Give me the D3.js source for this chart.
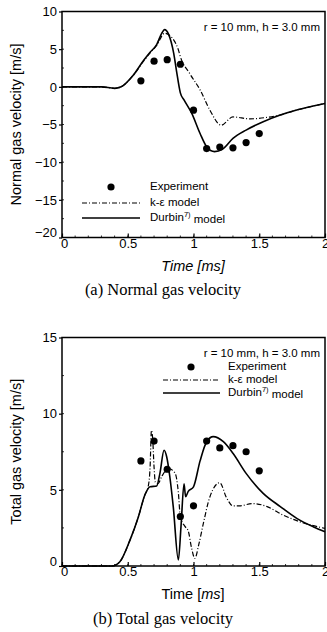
<!DOCTYPE html>
<html>
<head>
<meta charset="utf-8">
<script src="https://cdn.jsdelivr.net/npm/d3@7"></script>
<style>
  body { margin: 0; background: #fff; }
  svg { display: block; }
</style>
</head>
<body>
<svg id="chart"></svg>
<script>
// tick labels
const xTicks = [0, 0.5, 1, 1.5, 2];
const normalTicks = [10, 5, 0, -5, -10, -15, -20];
const totalTicks = [0, 5, 10, 15];

// experiment points (same times in both panels)
const expTime = [0.6, 0.7, 0.8, 0.9, 1.0, 1.1, 1.2, 1.3, 1.4, 1.5];
const normalExp = [0.8, 3.4, 3.6, 3.0, -3.1, -8.2, -8.0, -8.1, -7.4, -6.2];
const totalExp = [6.9, 8.2, 6.35, 3.25, 3.95, 8.2, 7.75, 7.9, 7.5, 6.25];

// (a) normal gas velocity - Durbin model
const normalDurbinT = [0, 0.3, 0.4, 0.45, 0.54, 0.62, 0.67, 0.72, 0.758, 0.78, 0.81, 0.85, 0.87, 0.9, 0.93, 0.986, 1.05, 1.1, 1.16, 1.22, 1.3, 1.4, 1.53, 1.66, 1.785, 1.91, 2.0];
const normalDurbin = [0, 0, -0.2, 0, 1.5, 3.5, 4.6, 5.6, 7.1, 7.6, 7.0, 4.4, 2.2, -0.8, -1.8, -3.5, -6.2, -7.95, -8.6, -8.3, -6.85, -5.74, -4.63, -3.74, -3.08, -2.55, -2.2];
// (a) normal gas velocity - k-e model
const normalKeT = [0, 0.3, 0.4, 0.45, 0.54, 0.62, 0.67, 0.72, 0.78, 0.85, 0.885, 0.9, 0.97, 1.05, 1.125, 1.21, 1.3, 1.43, 1.56, 1.66, 1.785, 1.91, 2.0];
const normalKe = [0, 0, -0.2, 0, 1.5, 3.4, 4.5, 5.5, 7.1, 6.2, 4.9, 4.0, 1.8, -0.4, -3.1, -5.1, -4.0, -4.25, -4.05, -3.74, -3.08, -2.55, -2.2];

// (b) total gas velocity - Durbin model
const totalDurbinT = [0, 0.38, 0.44, 0.517, 0.58, 0.63, 0.67, 0.72, 0.745, 0.776, 0.796, 0.82, 0.846, 0.885, 0.905, 0.928, 0.94, 0.96, 1.0, 1.05, 1.1, 1.15, 1.227, 1.3, 1.4, 1.53, 1.66, 1.785, 1.91, 2.0];
const totalDurbin = [0, 0, 0.28, 1.7, 3.2, 4.66, 5.2, 5.25, 6.1, 7.6, 7.17, 5.86, 3.9, 0.4, 2.6, 5.4, 4.55, 4.9, 5.2, 6.9, 8.16, 8.49, 8.16, 7.4, 6.08, 4.77, 3.9, 3.13, 2.58, 2.25];
// (b) total gas velocity - k-e model
const totalKeT = [0, 0.38, 0.44, 0.517, 0.58, 0.63, 0.655, 0.67, 0.68, 0.69, 0.7, 0.71, 0.73, 0.76, 0.81, 0.86, 0.885, 0.9, 0.935, 0.96, 0.985, 1.01, 1.04, 1.075, 1.125, 1.2, 1.25, 1.3, 1.35, 1.45, 1.56, 1.68, 1.81, 2.0];
const totalKe = [0, 0, 0.28, 1.7, 3.2, 4.66, 5.2, 6.5, 8.9, 8.3, 6.5, 5.5, 5.4, 5.9, 6.4, 6.1, 4.8, 3.2, 2.6, 2.3, 1.2, 0.5, 1.4, 2.8, 4.55, 5.47, 4.5, 3.95, 3.95, 4.1, 3.9, 3.35, 2.9, 2.47];

const legendLabels = ["Experiment", "k-\u03b5 model", "Durbin"];
const caseLabel = "r = 10 mm, h = 3.0 mm";

const W = 327, H = 632;
const svg = d3.select("#chart").attr("width", W).attr("height", H);
const sans = "'Liberation Sans', Arial, sans-serif";
const serif = "'Liberation Serif', 'Times New Roman', serif";
const keDash = "5,2,1,2";

function panel(opt) {
    const g = svg.append("g");
    const x = d3.scaleLinear().domain([0, 2]).range([62, 325]);
    const y = d3.scaleLinear().domain(opt.yDomain).range([opt.bottom, opt.top]);

    // minor ticks (inward)
    const xMinor = d3.range(0, 2.0001, 0.1);
    g.selectAll(".xm").data(xMinor).join("line")
        .attr("x1", d => x(d)).attr("x2", d => x(d))
        .attr("y1", opt.bottom).attr("y2", opt.bottom - 2)
        .attr("stroke", "#000").attr("stroke-width", 0.8);
    const yMinor = d3.range(opt.yDomain[0], opt.yDomain[1] + 0.001, 2.5);
    g.selectAll(".ym").data(yMinor).join("line")
        .attr("x1", 62).attr("x2", 64)
        .attr("y1", d => y(d)).attr("y2", d => y(d))
        .attr("stroke", "#000").attr("stroke-width", 0.8);

    // axes
    const xAxis = g.append("g")
        .attr("transform", `translate(0,${opt.bottom})`)
        .call(d3.axisBottom(x).tickValues(xTicks).tickFormat(d3.format("")).tickSize(-4).tickPadding(1));
    const yAxis = g.append("g")
        .attr("transform", "translate(62,0)")
        .call(d3.axisLeft(y).tickValues(opt.yTicks).tickFormat(d3.format("")).tickSize(3).tickPadding(2));
    [xAxis, yAxis].forEach(a => {
        a.select(".domain").remove();
        a.selectAll("line").attr("stroke", "#000").attr("stroke-width", 1.2);
        a.selectAll("text").attr("fill", "#000")
            .style("font-family", sans).style("font-size", "13px");
    });
    xAxis.selectAll("text").attr("dx", d => d === 0 ? 2 : 0);
    yAxis.selectAll("text").attr("dy", d => d === opt.yDomain[0] ? "-0.05em" : "0.32em");

    // frame
    g.append("rect")
        .attr("x", 62).attr("y", opt.top)
        .attr("width", 325 - 62).attr("height", opt.bottom - opt.top)
        .attr("fill", "none").attr("stroke", "#000").attr("stroke-width", 1.5);

    const line = d3.line().x(d => x(d[0])).y(d => y(d[1])).curve(d3.curveMonotoneX);

    g.append("path")
        .attr("d", line(opt.keT.map((t, i) => [t, opt.ke[i]])))
        .attr("fill", "none").attr("stroke", "#000").attr("stroke-width", 1.2)
        .attr("stroke-dasharray", keDash);
    g.append("path")
        .attr("d", line(opt.durT.map((t, i) => [t, opt.dur[i]])))
        .attr("fill", "none").attr("stroke", "#000").attr("stroke-width", 1.6);

    g.selectAll(".dot").data(expTime.map((t, i) => [t, opt.exp[i]])).join("circle")
        .attr("cx", d => x(d[0])).attr("cy", d => y(d[1])).attr("r", 3.6)
        .attr("fill", "#000");

    // case label
    g.append("text").text(caseLabel)
        .attr("x", 320).attr("y", opt.caseY)
        .attr("text-anchor", "end").attr("dominant-baseline", "middle")
        .style("font-family", sans).style("font-size", "11.5px");

    // legend
    const L = opt.legend;
    g.append("circle").attr("cx", L.dotX).attr("cy", L.ys[0]).attr("r", 3.6).attr("fill", "#000");
    g.append("line").attr("x1", L.x1).attr("x2", L.x2).attr("y1", L.ys[1]).attr("y2", L.ys[1])
        .attr("stroke", "#000").attr("stroke-width", 1.2).attr("stroke-dasharray", keDash);
    g.append("line").attr("x1", L.x1).attr("x2", L.x2).attr("y1", L.ys[2]).attr("y2", L.ys[2])
        .attr("stroke", "#000").attr("stroke-width", 1.6);
    legendLabels.forEach((lab, i) => {
        const t = g.append("text")
            .attr("x", L.tx).attr("y", L.ys[i])
            .attr("dominant-baseline", "middle")
            .style("font-family", sans).style("font-size", "11.5px");
        t.append("tspan").text(lab);
        if (i === 2) {
            t.append("tspan").text("7)").attr("dy", "-0.45em").style("font-size", "7.5px");
            t.append("tspan").text(" model").attr("dy", "0.45em");
        }
    });

    // axis titles
    g.append("text")
        .attr("transform", `translate(${opt.yTitleX},${(opt.top + opt.bottom) / 2}) rotate(-90)`)
        .attr("text-anchor", "middle").attr("dominant-baseline", "middle")
        .style("font-family", sans).style("font-size", "14.5px")
        .text(opt.yTitle);
    const xt = g.append("text")
        .attr("x", 193).attr("y", opt.bottom + 33)
        .attr("text-anchor", "middle")
        .style("font-family", sans).style("font-size", "14.5px");
    if (opt.italicTime) {
        xt.style("font-style", "italic").text("Time [ms]");
    } else {
        xt.append("tspan").text("Time [");
        xt.append("tspan").text("ms").style("font-style", "italic");
        xt.append("tspan").text("]");
    }

    // caption
    g.append("text")
        .attr("x", 163).attr("y", opt.captionY)
        .attr("text-anchor", "middle")
        .style("font-family", serif).style("font-size", "16.5px")
        .text(opt.caption);
}

panel({
    top: 11.5, bottom: 237.5, yDomain: [-20, 10], yTicks: normalTicks,
    durT: normalDurbinT, dur: normalDurbin, keT: normalKeT, ke: normalKe, exp: normalExp,
    caseY: 28,
    legend: { dotX: 111, x1: 82, x2: 140, tx: 150, ys: [187, 203, 218] },
    yTitle: "Normal gas velocity [m/s]", yTitleX: 17, italicTime: true,
    caption: "(a) Normal gas velocity", captionY: 295
});

panel({
    top: 337.5, bottom: 566, yDomain: [0, 15], yTicks: totalTicks,
    durT: totalDurbinT, dur: totalDurbin, keT: totalKeT, ke: totalKe, exp: totalExp,
    caseY: 354,
    legend: { dotX: 191, x1: 163, x2: 220, tx: 228, ys: [367, 380, 393] },
    yTitle: "Total gas velocity [m/s]", yTitleX: 17, italicTime: false,
    caption: "(b) Total gas velocity", captionY: 624
});
</script>
</body>
</html>
